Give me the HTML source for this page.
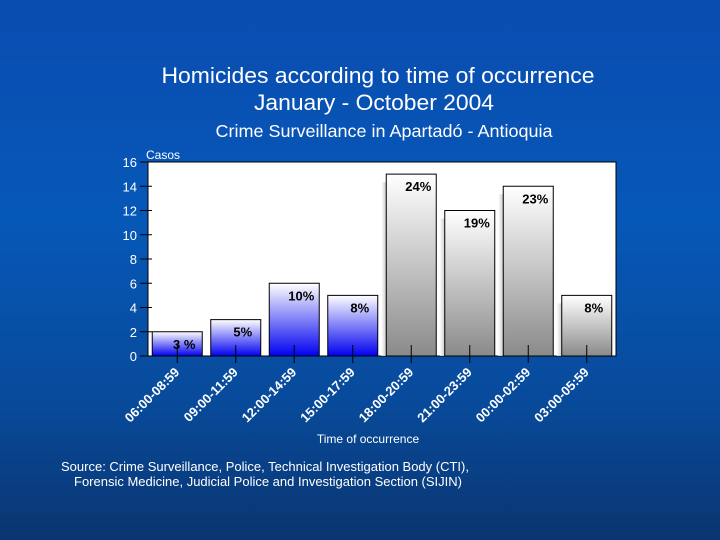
<!DOCTYPE html>
<html><head><meta charset="utf-8"><style>
body{margin:0;width:720px;height:540px;overflow:hidden;background:linear-gradient(180deg,#0a4cb0 0%,#0658b8 40%,#084a9a 75%,#0a3570 100%);font-family:"Liberation Sans",sans-serif;color:#fff}
svg{position:absolute;left:0;top:0}
</style></head><body>
<svg width="720" height="540">
<defs>
<linearGradient id="gb" x1="0" y1="0" x2="0" y2="1"><stop offset="0" stop-color="#ffffff"/><stop offset="1" stop-color="#0000f0"/></linearGradient>
<linearGradient id="gg" x1="0" y1="0" x2="0" y2="1"><stop offset="0" stop-color="#ffffff"/><stop offset="1" stop-color="#8a8a8a"/></linearGradient>
<linearGradient id="gs" x1="0" y1="0" x2="1" y2="0"><stop offset="0" stop-color="#ffffff"/><stop offset="1" stop-color="#999"/></linearGradient>
</defs>
<text x="378" y="83" font-size="22.5" text-anchor="middle" fill="#fff" textLength="433" lengthAdjust="spacingAndGlyphs">Homicides according to time of occurrence</text>
<text x="374" y="110" font-size="22.5" text-anchor="middle" fill="#fff" textLength="240" lengthAdjust="spacingAndGlyphs">January - October 2004</text>
<text x="384" y="137" font-size="17.5" text-anchor="middle" fill="#fff" textLength="337" lengthAdjust="spacingAndGlyphs">Crime Surveillance in Apartadó - Antioquia</text>
<rect x="148" y="162" width="468" height="194" fill="#fff" stroke="#000"/>
<text x="146" y="159" font-size="12" fill="#fff">Casos</text>
<g id="g"></g>
<text x="368" y="443" font-size="12" text-anchor="middle" fill="#fff">Time of occurrence</text>
<text x="265" y="471" font-size="13" text-anchor="middle" fill="#fff" textLength="408" lengthAdjust="spacingAndGlyphs">Source: Crime Surveillance, Police, Technical Investigation Body (CTI),</text>
<text x="268" y="486" font-size="13" text-anchor="middle" fill="#fff" textLength="388" lengthAdjust="spacingAndGlyphs">Forensic Medicine, Judicial Police and Investigation Section (SIJIN)</text>
</svg>
<script>
const categories=["06:00-08:59","09:00-11:59","12:00-14:59","15:00-17:59","18:00-20:59","21:00-23:59","00:00-02:59","03:00-05:59"];
const values=[2,3,6,5,15,12,14,5];
const percents=["3 %","5%","10%","8%","24%","19%","23%","8%"];
const yTicks=[0,2,4,6,8,10,12,14,16];
const NS="http://www.w3.org/2000/svg";
const g=document.getElementById('g');
const x0=148,x1=616,y0=356,y1=162,ymax=16;
const bw=(x1-x0)/categories.length;
const y=v=>y0-(y0-y1)*v/ymax;
const xc=i=>x0+bw*(i+0.5);
function mk(t,a){const e=document.createElementNS(NS,t);for(const k in a)e.setAttribute(k,a[k]);g.appendChild(e);return e;}
yTicks.forEach(v=>{
 const l=mk('line',{x1:140,x2:152,y1:y(v),y2:y(v),stroke:'#000'});
 
 
 const t=mk('text',{x:137,y:y(v)+5,'font-size':13,'text-anchor':'end',fill:'#fff'});
 t.textContent=v;
 
 
});
values.forEach((v,i)=>{
 const gray=i>=4;
 if(gray){const s=mk('rect',{x:xc(i)-30,y:y(v)+8,width:8,height:y0-y(v)-8,fill:'url(#gs)',opacity:0.8});
 
 }
 const r=mk('rect',{x:xc(i)-25,y:y(v),width:50,height:y0-y(v),fill:gray?'url(#gg)':'url(#gb)',stroke:'#000'});
 
 
 const p=mk('text',{x:xc(i)+7,y:y(v)+17,'font-size':13,'font-weight':'bold','text-anchor':'middle',fill:'#000'});
 p.textContent=percents[i];
 
 
 const tk=mk('line',{x1:xc(i),x2:xc(i),y1:345,y2:363,stroke:'#000'});
 
 
 const t=mk('text',{x:xc(i)+3,y:373,'font-size':13,'font-weight':'bold','text-anchor':'end',fill:'#fff',transform:`rotate(-45 ${xc(i)+3} 373)`});
 t.textContent=categories[i];
 
 
});
</script>
</body></html>
